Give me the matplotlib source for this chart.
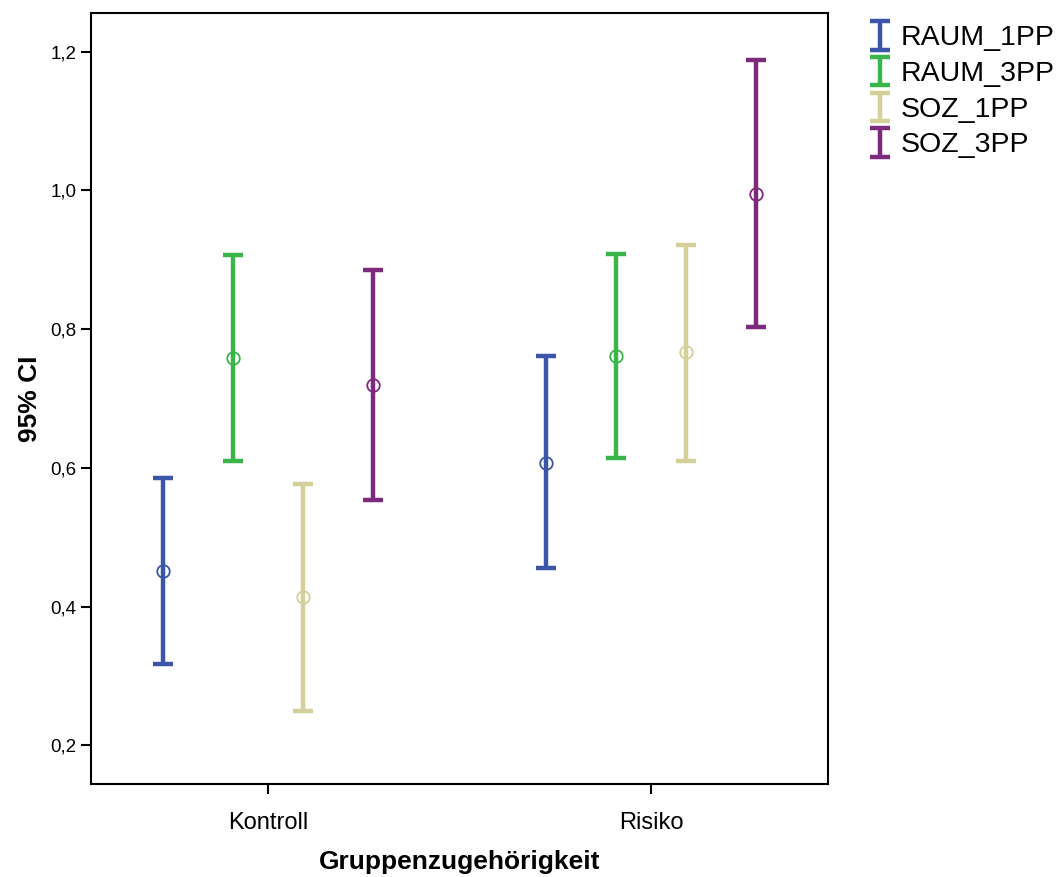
import matplotlib.pyplot as plt
from matplotlib.legend_handler import HandlerErrorbar
from matplotlib.container import ErrorbarContainer
import numpy as np

plt.rcParams['font.family'] = ['Liberation Sans', 'DejaVu Sans']

# Daten
gruppen = ['Kontroll', 'Risiko']
serien = ['RAUM_1PP', 'RAUM_3PP', 'SOZ_1PP', 'SOZ_3PP']
mittel = {
    'RAUM_1PP': [0.451, 0.607],
    'RAUM_3PP': [0.758, 0.762],
    'SOZ_1PP': [0.413, 0.767],
    'SOZ_3PP': [0.719, 0.995],
}
unten = {
    'RAUM_1PP': [0.317, 0.455],
    'RAUM_3PP': [0.610, 0.614],
    'SOZ_1PP': [0.249, 0.610],
    'SOZ_3PP': [0.553, 0.803],
}
oben = {
    'RAUM_1PP': [0.585, 0.761],
    'RAUM_3PP': [0.907, 0.908],
    'SOZ_1PP': [0.576, 0.921],
    'SOZ_3PP': [0.885, 1.188],
}
farben = ['#3B55A9', '#3BB54A', '#D5D09A', '#7D2A7D']
versatz = [-0.275, -0.0915, 0.0915, 0.275]

fig = plt.figure(figsize=(10.63, 8.77), dpi=100)
ax = fig.add_axes([91 / 1063, 93 / 877, 737 / 1063, 771 / 877])

x = np.arange(len(gruppen))
for s, c, d in zip(serien, farben, versatz):
    m = np.array(mittel[s])
    lo = m - np.array(unten[s])
    hi = np.array(oben[s]) - m
    ax.errorbar(x + d, m, yerr=[lo, hi], fmt='none', ecolor=c, elinewidth=3.2,
                capsize=7, capthick=3.2, label=s)
    ax.plot(x + d, m, 'o', mfc='none', mec=c, ms=9, mew=1.3)

ax.set_xlim(-0.462, 1.462)
ax.set_ylim(0.144, 1.256)
ax.set_xticks(x)
ax.set_xticklabels(gruppen, fontsize=17)
ax.set_yticks([0.2, 0.4, 0.6, 0.8, 1.0, 1.2])
ax.set_yticklabels(['0,2', '0,4', '0,6', '0,8', '1,0', '1,2'], fontsize=13.5)
ax.tick_params(axis='both', length=7, width=1.5, direction='out')
ax.tick_params(axis='x', pad=13)
for sp in ax.spines.values():
    sp.set_linewidth(1.5)

ax.set_xlabel('Gruppenzugehörigkeit', fontsize=19, fontweight='bold', labelpad=12)
ax.set_ylabel('95% CI', fontsize=19, fontweight='bold', labelpad=6)

fig.legend(loc='upper left', bbox_to_anchor=(861 / 1063, 1 - 14 / 877), frameon=False,
           fontsize=20.5, handlelength=0.55, handletextpad=0.45, labelspacing=0.34,
           borderaxespad=0,
           handler_map={ErrorbarContainer: HandlerErrorbar(xerr_size=0.22, yerr_size=0.5)})

plt.savefig('out.png', dpi=100)
